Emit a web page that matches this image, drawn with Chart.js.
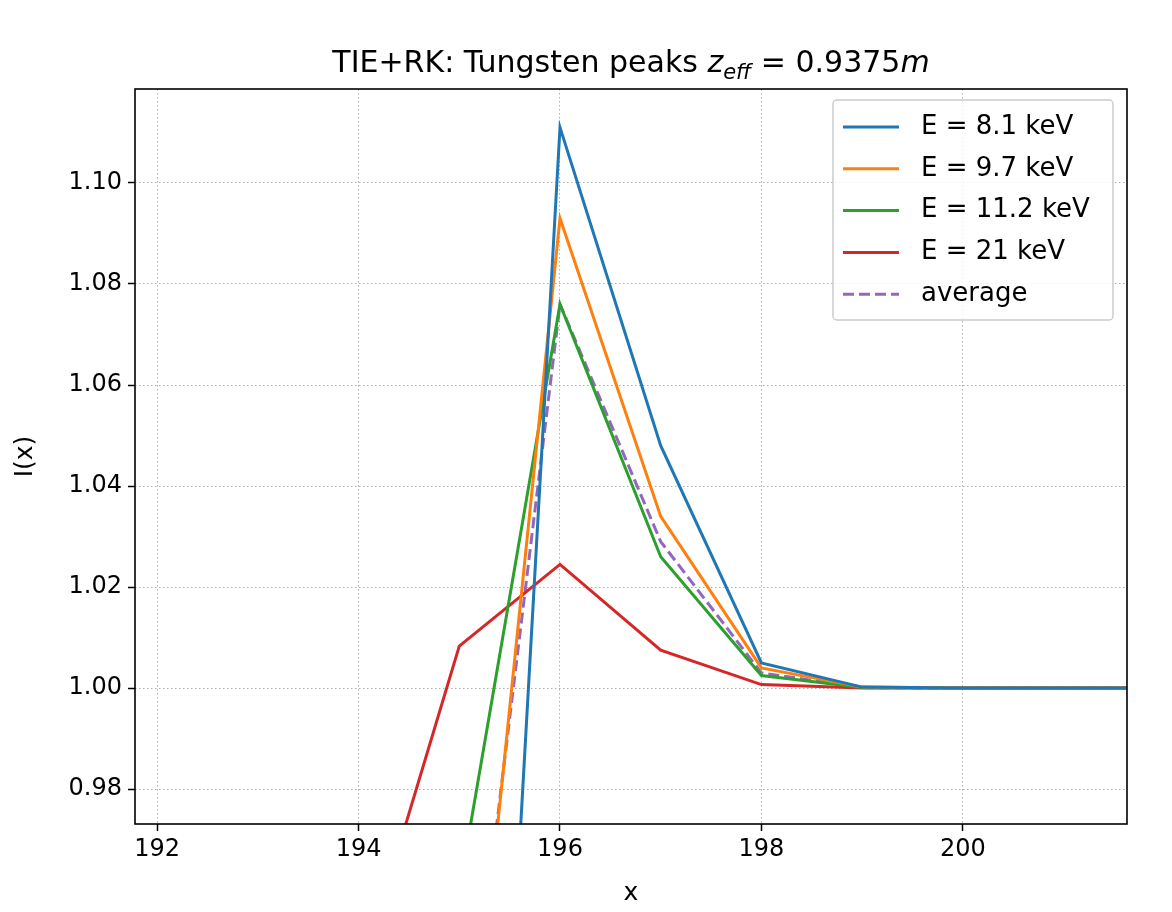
<!DOCTYPE html>
<html>
<head>
<meta charset="utf-8">
<script src="https://cdn.jsdelivr.net/npm/chart.js@4/dist/chart.umd.min.js"></script>
<style>
  html, body { margin: 0; padding: 0; background: #fff; }
  #wrap { width: 1172px; height: 912px; }
</style>
</head>
<body>
<div id="wrap"><canvas id="chart" width="1172" height="912"></canvas></div>
<script>
// values
const xs = [194, 195, 196, 197, 198, 199, 200, 201, 202];
const e81 = [0.40, 0.757, 1.111, 1.048, 1.005, 1.0002, 1.0000, 1.0000, 1.0000];
const e97 = [0.70, 0.899, 1.093, 1.034, 1.004, 1.0002, 1.0000, 1.0000, 1.0000];
const e112 = [0.85, 0.960, 1.076, 1.026, 1.0025, 1.0001, 1.0000, 1.0000, 1.0000];
const e21 = [0.942, 1.0083, 1.0245, 1.0075, 1.0007, 1.0000, 1.0000, 1.0000, 1.0000];
const avg = [0.72, 0.912, 1.076, 1.029, 1.003, 1.0001, 1.0000, 1.0000, 1.0000];

const seriesNames = ['E = 8.1 keV', 'E = 9.7 keV', 'E = 11.2 keV', 'E = 21 keV', 'average'];
const seriesValues = [e81, e97, e112, e21, avg];
const seriesColors = ['#1f77b4', '#ff7f0e', '#2ca02c', '#d62728', '#9467bd'];

const xTicks = [192, 194, 196, 198, 200];
const yTicks = [0.98, 1.00, 1.02, 1.04, 1.06, 1.08, 1.10];

const FONT = 'DejaVu Sans';

const datasets = seriesValues.map((vals, i) => ({
    label: seriesNames[i],
    data: xs.map((x, j) => ({ x: x, y: vals[j] })),
    borderColor: seriesColors[i],
    backgroundColor: seriesColors[i],
    borderWidth: 3,
    borderDash: i === 4 ? [11, 5] : [],
    pointRadius: 0,
    showLine: true,
    tension: 0
}));

// frame, title and legend drawn like matplotlib
const decor = {
    id: 'decor',
    afterDatasetsDraw(chart) {
        const { ctx, chartArea: a } = chart;
        ctx.save();
        ctx.strokeStyle = '#000';
        ctx.lineWidth = 1.6;
        ctx.strokeRect(a.left, a.top, a.right - a.left, a.bottom - a.top);

        // title
        ctx.fillStyle = '#000';
        ctx.textBaseline = 'alphabetic';
        const parts = [
            { t: 'TIE+RK: Tungsten peaks ', f: '30px ' + FONT, dy: 0 },
            { t: 'z', f: 'italic 30px ' + FONT, dy: 0 },
            { t: 'eff', f: 'italic 21px ' + FONT, dy: 7 },
            { t: ' = 0.9375', f: '30px ' + FONT, dy: 0 },
            { t: 'm', f: 'italic 30px ' + FONT, dy: 0 }
        ];
        let w = 0;
        parts.forEach(p => { ctx.font = p.f; w += ctx.measureText(p.t).width; });
        let x = (a.left + a.right) / 2 - w / 2;
        parts.forEach(p => {
            ctx.font = p.f;
            ctx.fillText(p.t, x, 72 + p.dy);
            x += ctx.measureText(p.t).width;
        });

        // legend
        const lx = 833, ly = 100, lw = 280, lh = 220;
        ctx.fillStyle = 'rgba(255,255,255,0.85)';
        ctx.strokeStyle = '#cccccc';
        ctx.lineWidth = 1.5;
        ctx.beginPath();
        ctx.roundRect(lx, ly, lw, lh, 4);
        ctx.fill();
        ctx.stroke();
        ctx.font = '26px ' + FONT;
        ctx.textBaseline = 'middle';
        seriesNames.forEach((name, i) => {
            const y = 127 + i * 41.8;
            ctx.strokeStyle = seriesColors[i];
            ctx.lineWidth = 3;
            ctx.setLineDash(i === 4 ? [11, 5] : []);
            ctx.beginPath();
            ctx.moveTo(843, y);
            ctx.lineTo(899, y);
            ctx.stroke();
            ctx.setLineDash([]);
            ctx.fillStyle = '#000';
            ctx.fillText(name, 921, y);
        });
        ctx.restore();
    }
};

new Chart(document.getElementById('chart').getContext('2d'), {
    type: 'scatter',
    data: { datasets: datasets },
    options: {
        responsive: false,
        animation: false,
        layout: { padding: { left: 0, right: 45, top: 89, bottom: 0 } },
        plugins: { legend: { display: false }, title: { display: false }, tooltip: { enabled: false } },
        scales: {
            x: {
                type: 'linear',
                min: 191.78,
                max: 201.63,
                afterBuildTicks: s => { s.ticks = xTicks.map(v => ({ value: v })); },
                afterFit: s => { s.height = 88; },
                ticks: { color: '#000', font: { family: FONT, size: 24 }, padding: 4, maxRotation: 0 },
                grid: { color: '#999', lineWidth: 0.8, tickColor: '#000', tickLength: 7, tickWidth: 1.5, tickBorderDash: [] },
                border: { display: false, dash: [1.5, 2.5] },
                title: { display: true, text: 'x', color: '#000', font: { family: FONT, size: 25 }, padding: { top: 2 } }
            },
            y: {
                min: 0.9731,
                max: 1.1186,
                afterBuildTicks: s => { s.ticks = yTicks.map(v => ({ value: v })); },
                afterFit: s => { s.width = 135; },
                ticks: { color: '#000', font: { family: FONT, size: 24 }, padding: 6, callback: v => v.toFixed(2) },
                grid: { color: '#999', lineWidth: 0.8, tickColor: '#000', tickLength: 7, tickWidth: 1.5, tickBorderDash: [] },
                border: { display: false, dash: [1.5, 2.5] },
                title: { display: true, text: 'I(x)', color: '#000', font: { family: FONT, size: 25 }, padding: { top: 10, bottom: 6 } }
            }
        }
    },
    plugins: [decor]
});
</script>
</body>
</html>
